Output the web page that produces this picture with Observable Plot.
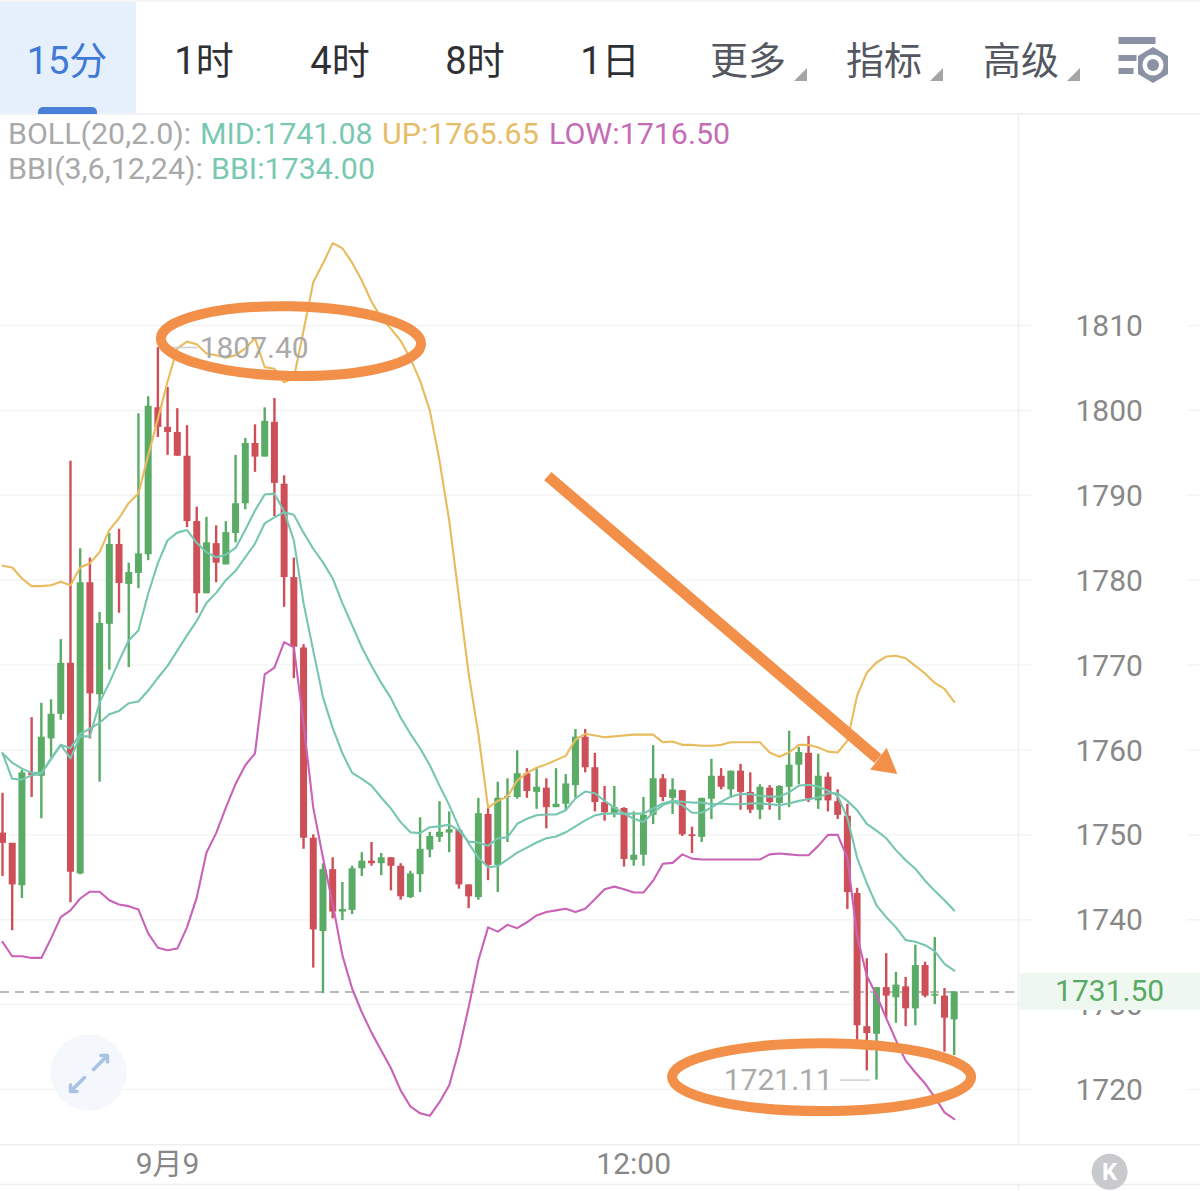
<!DOCTYPE html>
<html><head><meta charset="utf-8">
<script src="https://cdn.jsdelivr.net/npm/d3@7"></script>
<script src="https://cdn.jsdelivr.net/npm/@observablehq/plot@0.6"></script>
<style>
html,body{margin:0;padding:0;background:#fff;}
#page{position:relative;width:1200px;height:1191px;overflow:hidden;font-family:Roboto,"Noto Sans CJK SC",sans-serif;}
.tab{position:absolute;top:35px;height:52px;line-height:52px;transform:translateX(-50%);font-size:38px;white-space:nowrap;}
.tri{position:absolute;top:68px;width:13px;height:13px;background:#a5a5a5;clip-path:polygon(100% 0,100% 100%,0 100%);}
.leg{position:absolute;font-size:30.4px;line-height:36px;white-space:nowrap;}
#chart{position:absolute;left:0;top:114px;}
</style></head><body>
<div id="page"><div id="chart"></div></div>
<script>
// Candles
const open=[1750.2,1749.0,1744.0,1757.3,1756.9,1761.3,1764.2,1770.2,1745.4,1779.7,1766.5,1774.8,1784.2,1779.5,1780.8,1783.0,1800.3,1798.0,1797.4,1794.6,1786.9,1778.4,1784.3,1781.8,1785.5,1789.0,1796.1,1794.5,1798.6,1791.3,1780.3,1772.0,1749.6,1738.6,1745.9,1740.9,1741.1,1746.0,1746.9,1746.6,1747.3,1746.3,1742.6,1745.3,1748.2,1749.7,1750.2,1750.5,1744.1,1742.6,1752.4,1746.4,1754.4,1754.4,1757.2,1755.0,1755.5,1753.2,1753.6,1755.8,1761.5,1757.9,1753.8,1752.5,1753.1,1747.0,1747.6,1752.3,1756.6,1754.3,1755.2,1750.0,1749.7,1754.2,1756.9,1755.3,1757.5,1755.0,1752.9,1755.5,1753.7,1755.6,1758.2,1759.6,1754.0,1756.8,1753.9,1752.2,1743.1,1727.4,1726.5,1732.0,1730.8,1732.1,1729.5,1734.6,1731.0,1731.0,1728.2];
const close=[1749.0,1744.1,1757.3,1757.0,1761.5,1764.2,1770.2,1745.6,1779.7,1766.6,1774.9,1784.2,1779.6,1780.9,1783.1,1800.5,1798.0,1797.4,1794.6,1786.9,1778.4,1784.4,1782.0,1785.6,1789.0,1796.1,1794.5,1798.7,1791.4,1780.3,1772.1,1749.6,1738.8,1745.9,1740.9,1741.2,1746.0,1746.9,1746.6,1747.3,1746.3,1742.7,1745.4,1748.3,1749.8,1750.3,1750.6,1744.1,1742.7,1752.5,1746.4,1754.3,1754.5,1757.2,1755.1,1755.6,1753.2,1753.6,1756.0,1761.5,1757.9,1753.8,1752.6,1753.2,1747.1,1747.6,1752.3,1756.6,1754.4,1755.3,1750.0,1749.8,1754.3,1756.9,1755.6,1757.5,1755.0,1752.9,1755.6,1753.8,1755.7,1758.2,1759.7,1754.2,1756.9,1754.0,1752.3,1743.2,1727.5,1726.6,1732.0,1731.0,1732.3,1729.5,1734.6,1731.0,1731.2,1728.4,1731.5];
const high=[1754.9,1749.0,1757.6,1763.8,1765.5,1765.9,1773.0,1794.0,1783.7,1782.6,1776.2,1785.5,1786.0,1782.0,1799.6,1801.6,1807.4,1802.7,1800.2,1798.2,1788.6,1787.4,1786.4,1786.9,1794.7,1796.7,1798.3,1800.3,1801.4,1792.3,1782.6,1772.4,1750.0,1746.6,1747.3,1744.4,1746.3,1747.9,1749.1,1747.8,1747.3,1746.6,1745.7,1752.0,1750.3,1753.9,1752.7,1750.6,1744.1,1754.3,1753.1,1756.2,1756.6,1759.9,1757.8,1757.9,1756.6,1757.8,1757.1,1762.4,1762.4,1759.6,1755.7,1755.7,1753.2,1752.7,1754.4,1760.5,1757.1,1756.6,1755.2,1750.9,1754.3,1758.9,1757.8,1757.5,1758.3,1757.3,1755.9,1755.8,1755.8,1762.2,1760.3,1761.6,1759.5,1757.3,1755.3,1753.6,1743.7,1735.4,1732.0,1736.0,1733.8,1733.2,1737.0,1735.0,1737.9,1731.9,1731.5];
const low=[1745.1,1738.7,1742.5,1754.4,1751.9,1759.1,1763.5,1742.0,1745.3,1761.3,1756.2,1769.4,1776.1,1769.7,1779.0,1782.3,1796.8,1794.7,1794.6,1786.2,1776.1,1778.4,1779.7,1781.8,1784.4,1788.3,1792.7,1794.5,1787.5,1776.8,1768.4,1748.3,1734.3,1731.3,1740.1,1739.9,1740.6,1745.1,1746.3,1745.2,1743.4,1742.3,1742.5,1743.2,1747.3,1749.1,1747.9,1743.6,1741.3,1742.3,1744.6,1743.2,1749.1,1754.2,1754.3,1753.0,1750.7,1753.2,1752.9,1754.3,1757.3,1752.7,1751.6,1752.0,1746.2,1746.3,1746.3,1751.2,1753.9,1752.4,1749.8,1747.8,1749.1,1751.8,1755.3,1754.3,1752.9,1752.5,1751.8,1752.9,1751.7,1753.2,1755.9,1753.8,1753.0,1752.7,1751.8,1741.2,1725.2,1722.2,1721.11,1728.4,1727.8,1727.4,1727.5,1730.8,1730.0,1724.4,1724.0];
// Indicators
const upper=[1781.7,1781.5,1780.2,1779.3,1779.3,1779.4,1779.8,1779.4,1781.5,1782.0,1783.3,1785.9,1787.3,1789.1,1790.2,1794.7,1799.0,1803.4,1807.3,1808.1,1807.8,1806.7,1806.5,1806.2,1806.5,1807.3,1808.5,1805.1,1804.9,1803.3,1803.8,1809.4,1815.1,1817.3,1819.7,1819.1,1817.4,1815.3,1812.8,1810.9,1809.6,1808.2,1806.1,1803.5,1800.0,1794.1,1787.0,1778.0,1769.0,1761.9,1753.2,1754.0,1754.5,1756.4,1757.3,1757.9,1758.3,1758.8,1759.3,1761.2,1761.9,1761.7,1761.5,1761.6,1761.7,1761.8,1761.8,1761.8,1760.9,1761.0,1760.6,1760.6,1760.5,1760.5,1760.6,1760.9,1760.9,1760.9,1760.9,1759.7,1759.2,1759.7,1760.6,1760.6,1760.3,1759.8,1759.7,1761.1,1766.4,1769.1,1770.3,1771.0,1771.1,1770.8,1769.9,1769.0,1767.9,1767.2,1765.65];
const lower=[1737.4,1735.7,1735.7,1735.5,1735.5,1737.8,1740.3,1741.1,1742.5,1743.3,1743.3,1742.3,1741.8,1741.6,1741.2,1738.4,1736.7,1736.4,1736.6,1739.1,1742.6,1747.9,1750.2,1753.2,1756.0,1758.2,1759.6,1768.9,1769.7,1772.7,1772.1,1763.1,1753.2,1747.3,1741.9,1735.8,1731.9,1729.1,1726.7,1724.6,1722.5,1719.9,1718.0,1717.2,1716.9,1718.5,1720.5,1724.6,1729.7,1735.2,1739.1,1738.6,1739.4,1739.0,1739.7,1740.5,1740.9,1741.1,1741.3,1740.9,1741.3,1742.4,1743.6,1743.9,1743.6,1743.2,1743.2,1744.6,1746.6,1746.7,1747.7,1747.2,1747.1,1747.1,1747.1,1747.1,1747.1,1747.1,1747.1,1747.7,1747.8,1747.7,1747.6,1747.6,1748.7,1750.0,1750.0,1747.3,1738.1,1733.4,1731.1,1728.4,1725.8,1723.4,1722.0,1720.7,1719.1,1717.3,1716.5];
const mid=[1759.6,1758.5,1757.8,1757.3,1757.3,1758.9,1760.6,1760.2,1761.9,1762.5,1763.2,1764.2,1764.6,1765.5,1765.7,1767.0,1768.5,1769.9,1771.7,1773.5,1775.2,1777.3,1778.5,1780.0,1781.1,1782.7,1784.3,1786.7,1787.4,1788.0,1787.7,1785.6,1783.7,1782.1,1780.2,1777.3,1774.7,1772.1,1769.9,1767.9,1766.1,1763.8,1761.9,1760.2,1758.2,1755.8,1753.5,1750.9,1749.0,1747.3,1746.2,1746.3,1747.1,1747.9,1748.5,1749.1,1749.6,1749.8,1750.3,1751.0,1751.7,1752.3,1752.5,1752.5,1752.5,1752.5,1752.5,1753.1,1753.7,1754.0,1753.9,1753.8,1753.8,1753.6,1753.7,1753.6,1753.6,1753.7,1753.7,1753.6,1753.5,1753.7,1754.0,1754.2,1754.4,1754.9,1754.9,1754.0,1752.9,1751.3,1750.5,1749.6,1748.2,1747.0,1746.0,1744.6,1743.4,1742.3,1741.08];
const bbi=[1759.6,1756.6,1756.5,1757.0,1757.2,1759.0,1760.6,1759.0,1761.6,1761.6,1765.6,1767.9,1770.5,1772.9,1774.1,1778.4,1782.0,1784.7,1785.6,1785.9,1784.4,1783.3,1782.7,1783.0,1783.8,1785.9,1788.2,1790.1,1790.2,1788.1,1784.7,1777.3,1771.7,1766.2,1762.6,1759.6,1757.3,1756.6,1755.8,1754.4,1753.1,1751.5,1750.3,1750.2,1750.9,1751.0,1751.2,1750.5,1749.2,1749.1,1748.7,1749.6,1749.7,1751.3,1751.9,1752.3,1752.4,1752.4,1752.9,1754.3,1755.1,1754.9,1754.0,1753.2,1752.5,1751.9,1751.5,1752.6,1753.5,1753.9,1753.5,1752.6,1752.6,1753.2,1753.9,1754.5,1754.8,1754.8,1754.6,1754.5,1754.5,1755.0,1755.8,1755.9,1755.7,1755.2,1754.6,1752.0,1747.3,1744.3,1741.7,1740.3,1739.1,1737.6,1737.4,1737.0,1736.3,1734.8,1734.0];
const priceTicks=[1720,1730,1740,1750,1760,1770,1780,1790,1800,1810];
const timeTicks=[17,65];
const timeLabels=["9月9","12:00"];
const lastPrice=1731.5;
const tabs=[["15分",67],["1时",204],["4时",340],["8时",475],["1日",610],["更多",748],["指标",884],["高级",1021]];
const legends=[
 ["BOLL(20,2.0):",8,134,"#a9a9a9"],["MID:1741.08",200,134,"#78c8b2"],["UP:1765.65",382,134,"#e6bd66"],["LOW:1716.50",549,134,"#c56cb7"],
 ["BBI(3,6,12,24):",8,169,"#a9a9a9"],["BBI:1734.00",211,169,"#78c8b2"]];
// Hand-drawn notes, in chart units: [x index, price, x radius, price radius, tilt degrees]
const ellipses=[[29.76,1808.1,13.4,4.1,1.2],[84.4,1721.4,15.4,4.0,0]];
const arrowShaft=[[56.2,1792.2],[90.2,1758.9]];
const arrowHead=[[92.2,1757.1],[89.4,1757.6],[91.1,1760.2]];

const page=document.getElementById("page");
function el(tag,cls,css,txt){const e=document.createElement(tag);if(cls)e.className=cls;Object.assign(e.style,css||{});if(txt)e.textContent=txt;page.appendChild(e);return e;}
// toolbar
el("div","",{position:"absolute",left:0,top:0,width:"1200px",height:"2px",background:"#f6f6f6"});
el("div","",{position:"absolute",left:0,top:"2px",width:"136px",height:"112px",background:"#e6effc"});
el("div","",{position:"absolute",left:0,top:"113px",width:"1200px",height:"1.5px",background:"#f2f3f4"});
el("div","",{position:"absolute",left:"38px",top:"107px",width:"59px",height:"7px",background:"#4a80d8",borderRadius:"5px 5px 0 0"});
tabs.forEach(([t,x],i)=>el("div","tab",{left:x+"px",color:i==0?"#3f7ad6":i<5?"#2f3033":"#54575f"},t));
[794,930,1067].forEach(x=>el("div","tri",{left:x+"px"}));
legends.forEach(([t,x,y,c])=>el("div","leg",{left:x+"px",top:(y-18)+"px",color:c},t));
const ns="http://www.w3.org/2000/svg";
const ic=document.createElementNS(ns,"svg");
ic.setAttribute("width","60");ic.setAttribute("height","50");ic.setAttribute("viewBox","1115 33 60 50");
ic.style.cssText="position:absolute;left:1115px;top:33px";
ic.innerHTML='<g fill="#8a92a3"><rect x="1118.5" y="37" width="37" height="7"/><rect x="1118.5" y="55" width="18" height="6"/><rect x="1118.5" y="68" width="15" height="6"/><path d="M1153 47l15 9v18l-15 9l-15-9v-18z"/></g><circle cx="1153" cy="65" r="10.5" fill="#fff"/><circle cx="1153" cy="65" r="6" fill="#8a92a3"/>';
page.appendChild(ic);

const candles=open.map((o,i)=>({i,open:o,close:close[i],high:high[i],low:low[i],color:close[i]>=o?"#5aab65":"#cd4f58"}));
const seq=a=>a.map((v,i)=>({i,v}));
const grid="#f3f4f5",line="#eeeff0";
const ellipseMark=(index,{x,y})=>{
  const g=d3.create("svg:g").attr("fill","none").attr("stroke","#f2904a").attr("stroke-width",10);
  for(const [cx,cy,rx,ry,tilt] of ellipses)
    g.append("ellipse").attr("cx",x(cx)).attr("cy",y(cy)).attr("rx",x(cx+rx)-x(cx)).attr("ry",y(cy)-y(cy+ry))
     .attr("transform",`rotate(${tilt} ${x(cx)} ${y(cy)})`);
  return g.node();
};
const arrowMark=(index,{x,y})=>{
  const g=d3.create("svg:g");
  g.append("line").attr("x1",x(arrowShaft[0][0])).attr("y1",y(arrowShaft[0][1])).attr("x2",x(arrowShaft[1][0])).attr("y2",y(arrowShaft[1][1])).attr("stroke","#f2904a").attr("stroke-width",11);
  g.append("polygon").attr("points",arrowHead.map(([a,b])=>x(a)+","+y(b)).join(" ")).attr("fill","#f2904a");
  return g.node();
};
const chart=Plot.plot({
  width:1200,height:1077,marginTop:0,marginLeft:0,marginRight:182,marginBottom:47,
  style:{fontFamily:'Roboto,"Noto Sans CJK SC",sans-serif',background:"transparent",overflow:"visible"},
  x:{type:"linear",domain:[0,98],range:[2,953.7],axis:null},
  y:{type:"linear",domain:[1720,1810],range:[975,211],axis:null},
  marks:[
    Plot.ruleY(priceTicks,{x1:-0.2,x2:106.07,stroke:grid,strokeWidth:1.5}),
    Plot.ruleY(priceTicks,{x1:122,x2:123.4,stroke:grid,strokeWidth:1.5}),
    Plot.ruleY([1713.5,1708.8],{x1:-0.2,x2:123.4,stroke:line,strokeWidth:1.5}),
    Plot.ruleX([104.62],{y1:1713.5,y2:1834.9,stroke:line,strokeWidth:1.5}),
    Plot.ruleX([104.62],{y1:1708.8,y2:1708,stroke:line,strokeWidth:1.5}),
    Plot.axisY({ticks:priceTicks,anchor:"right",tickSize:0,tickPadding:57,dy:1,fontSize:30,color:"#888",label:null,tickFormat:d=>String(d)}),
    Plot.axisX({ticks:timeTicks,anchor:"bottom",tickSize:0,tickPadding:8,fontSize:30,color:"#888",label:null,tickFormat:d=>timeLabels[timeTicks.indexOf(d)]}),
    Plot.rectY([0],{x1:104.8,x2:123.4,y1:1729.3,y2:1733.7,fill:"#eef8f0"}),
    Plot.text([lastPrice],{x:114,y:d=>d,text:d=>d.toFixed(2),fontSize:30,fill:"#57a963"}),
    Plot.dot([0],{x:8.86,y:1722,r:38,fill:"#f4f7fc"}),
    Plot.arrow([[93,1069,107,1055],[84,1077,70,1091]],{x1:d=>(d[0]-2)/9.711,y1:d=>1810-(d[1]-325)/8.489,x2:d=>(d[2]-2)/9.711,y2:d=>1810-(d[3]-325)/8.489,stroke:"#a9c2e6",strokeWidth:3.5,bend:0,headLength:15,headAngle:90}),
    Plot.dot([0],{x:114,y:1710.3,r:18,fill:"#c9cacd"}),
    Plot.text(["K"],{x:114,y:1710.3,text:d=>d,fontSize:24,fontWeight:700,fill:"#fff"}),
    Plot.ruleY([lastPrice],{x1:-0.2,x2:104.3,stroke:"#b9b9b9",strokeWidth:2,strokeDasharray:"9,6"}),
    Plot.ruleX(candles,{x:"i",y1:"low",y2:"high",stroke:"color",strokeWidth:2.4}),
    Plot.ruleX(candles,{x:"i",y1:"open",y2:"close",stroke:"color",strokeWidth:7}),
    Plot.line(seq(mid),{x:"i",y:"v",stroke:"#76c6b0",strokeWidth:2.1}),
    Plot.line(seq(bbi),{x:"i",y:"v",stroke:"#76c6b0",strokeWidth:2.1}),
    Plot.line(seq(upper),{x:"i",y:"v",stroke:"#e9bb5d",strokeWidth:2.1}),
    Plot.line(seq(lower),{x:"i",y:"v",stroke:"#c863b7",strokeWidth:2.1}),
    Plot.ruleY([1807.4],{x1:16.3,x2:20.1,stroke:"#cfcfcf",strokeWidth:1.5}),
    Plot.text(["1807.40"],{x:20.3,y:1807.4,dy:1,text:d=>d,textAnchor:"start",fontSize:30,fill:"#aaa"}),
    Plot.ruleY([1721.11],{x1:86.3,x2:89.4,stroke:"#cfcfcf",strokeWidth:1.5}),
    Plot.text(["1721.11"],{x:85.5,y:1721.11,text:d=>d,textAnchor:"end",fontSize:30,fill:"#aaa"}),
    ellipseMark,arrowMark
  ]
});
document.getElementById("chart").appendChild(chart);
</script></body></html>
